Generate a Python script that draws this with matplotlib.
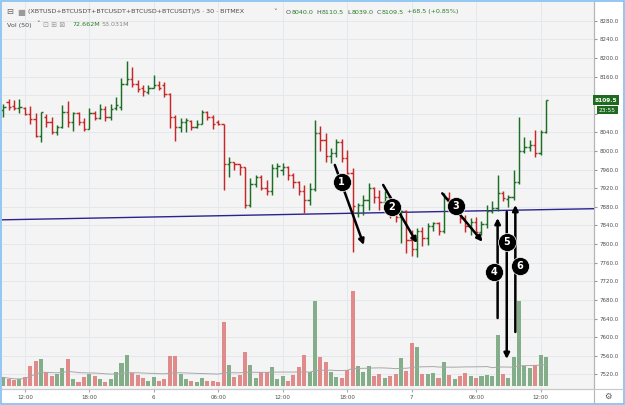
import matplotlib
matplotlib.use('Agg')
import matplotlib.pyplot as plt
import matplotlib.transforms as mtransforms
from matplotlib.patches import Rectangle
from matplotlib.lines import Line2D
import numpy as np
import pandas as pd

# 30 min bars from day 5 10:00 to day 7 12:30
opens = [8088, 8106, 8097, 8092, 8092, 8079, 8069, 8033, 8074, 8063,
         8041, 8052, 8083, 8063, 8081, 8063, 8047, 8081, 8070, 8090,
         8072, 8092, 8095, 8145, 8155, 8143, 8135, 8127, 8136, 8142,
         8142, 8122, 8074, 8052, 8063, 8064, 8052, 8059, 8084, 8074,
         8063, 8059, 7973, 7976, 7971, 7966, 7885, 7930, 7945, 7921,
         7913, 7963, 7960, 7966, 7949, 7934, 7915, 7895, 7918, 8038,
         8024, 7989, 7995, 8020, 7985, 7952, 7866, 7884, 7895, 7920,
         7902, 7891, 7902, 7874, 7859, 7870, 7809, 7790, 7827, 7812,
         7838, 7845, 7827, 7898, 7885, 7875, 7855, 7838, 7848, 7826,
         7843, 7872, 7878, 7910, 7896, 7902, 7934, 7999, 8009, 8013,
         7995, 8040]
highs = [8100, 8112, 8110, 8112, 8095, 8097, 8081, 8084, 8079, 8074,
         8056, 8099, 8107, 8083, 8083, 8070, 8093, 8085, 8100, 8097,
         8100, 8117, 8156, 8193, 8181, 8152, 8142, 8142, 8163, 8150,
         8149, 8124, 8077, 8070, 8070, 8066, 8066, 8088, 8086, 8077,
         8066, 8059, 7988, 7977, 7973, 7966, 7941, 7948, 7948, 7937,
         7971, 7975, 7974, 7968, 7952, 7935, 7927, 7931, 8067, 8053,
         8038, 8006, 8025, 8025, 8003, 7963, 7888, 7906, 7931, 7922,
         7917, 7915, 7905, 7877, 7874, 7874, 7830, 7834, 7837, 7845,
         7848, 7848, 7909, 7911, 7895, 7880, 7862, 7855, 7858, 7850,
         7885, 7892, 7949, 7915, 7905, 7959, 8074, 8031, 8024, 8045,
         8045, 8110.5]
lows = [8074, 8088, 8088, 8081, 8077, 8057, 8029, 8019, 8052, 8036,
        8034, 8049, 8052, 8043, 8056, 8043, 8047, 8066, 8068, 8064,
        8066, 8088, 8088, 8142, 8138, 8127, 8119, 8122, 8135, 8131,
        8117, 8050, 8021, 8040, 8040, 8045, 8049, 8059, 8066, 8047,
        8056, 7916, 7945, 7959, 7948, 7877, 7880, 7923, 7916, 7905,
        7905, 7945, 7949, 7938, 7920, 7906, 7866, 7884, 7913, 7999,
        7977, 7974, 7988, 7977, 7949, 7784, 7859, 7863, 7874, 7888,
        7874, 7886, 7855, 7848, 7803, 7780, 7775, 7772, 7795, 7798,
        7827, 7820, 7823, 7880, 7870, 7845, 7825, 7820, 7815, 7820,
        7835, 7866, 7870, 7893, 7880, 7895, 7930, 7995, 7999, 7988,
        7991, 8039]
closes = [8095, 8095, 8093, 8095, 8079, 8069, 8033, 8083, 8063, 8040,
          8052, 8084, 8063, 8081, 8063, 8047, 8081, 8070, 8090, 8072,
          8090, 8099, 8145, 8155, 8143, 8134, 8129, 8136, 8142, 8136,
          8122, 8074, 8052, 8063, 8066, 8052, 8059, 8084, 8074, 8059,
          8059, 7973, 7976, 7971, 7966, 7885, 7930, 7945, 7921, 7913,
          7963, 7968, 7966, 7949, 7934, 7915, 7895, 7918, 8038, 8024,
          7989, 7995, 8020, 7985, 7952, 7881, 7884, 7895, 7920, 7902,
          7891, 7902, 7874, 7859, 7870, 7809, 7790, 7827, 7812, 7838,
          7845, 7827, 7898, 7887, 7890, 7855, 7838, 7848, 7826, 7843,
          7872, 7878, 7910, 7900, 7902, 7934, 7999, 8009, 8013, 7995,
          8041, 8109.5]
# volume in millions
volumes = [21.5, 17.4, 14.9, 16.5, 22.3, 49.6, 62.8, 66.1, 33.9, 25.6,
           28.9, 43.8, 67.0, 18.2, 10.7, 23.1, 29.8, 25.6, 18.2, 9.9,
           16.5, 35.5, 57.9, 76.9, 31.4, 27.3, 20.7, 13.2, 22.3, 12.4,
           18.2, 74.4, 74.4, 28.9, 18.2, 13.2, 9.1, 20.7, 12.4, 13.2,
           9.9, 159.5, 51.3, 22.3, 26.5, 84.3, 51.3, 19.0, 33.9, 33.9,
           47.1, 18.2, 25.6, 12.4, 27.3, 47.1, 77.7, 34.7, 211.6, 72.7,
           59.5, 34.7, 22.3, 20.7, 39.7, 236.4, 50.4, 34.7, 49.6, 24.8,
           30.6, 19.8, 24.8, 29.8, 68.6, 37.2, 105.8, 97.5, 29.8, 29.8,
           32.2, 19.0, 59.5, 27.3, 17.4, 24.0, 31.4, 24.8, 19.8, 24.0,
           27.3, 24.0, 126.5, 28.9, 19.8, 71.1, 211.6, 49.6, 44.6, 52.1,
           76.9, 72.662]

tick_pos = [4, 16, 28, 40, 52, 64, 76, 88, 100]
tick_labels = ['12:00', '18:00', '6', '06:00', '12:00', '18:00', '7', '06:00', '12:00']
price_ticks = np.arange(7520, 8281, 40)

trend_x = [-0.6, 110]
trend_y = [7852, 7876]

# (label, circle x, circle y, arrow tail x, tail y, head x, head y)
notes = [
    ('1', 63.0, 7934, 61.7, 7970, 67.1, 7798),
    ('2', 72.3, 7880, 70.7, 7927, 77.0, 7802),
    ('3', 84.3, 7881, 81.7, 7909, 89.2, 7805),
    ('4', 91.4, 7740, 92.0, 7641, 92.0, 7856),
    ('5', 93.7, 7805, 93.7, 7869, 93.7, 7553),
    ('6', 96.1, 7753, 95.3, 7611, 95.3, 7884),
]

GREEN = '#1d6e25'
RED = '#c62828'
VGREEN = '#84ad89'
VRED = '#e08a8a'
GRID = '#e3e8ee'
TXT = '#4d4d4d'
VAL = '#2a7d2a'

W, H = 625, 405
fig = plt.figure(figsize=(W / 100, H / 100), dpi=100)
fig.patch.set_facecolor('white')

pos = [2 / W, (H - 389) / H, 592 / W, 387 / H]
axv = fig.add_axes(pos)
ax = axv.twinx()

x = np.arange(len(opens))
o = np.array(opens); c = np.array(closes)
up = c >= o

# volume (bottom layer)
axv.set_facecolor('#f4f4f4')
axv.bar(x, volumes, width=0.75, color=np.where(up, VGREEN, VRED), zorder=2)
ma = pd.Series(volumes).rolling(50, min_periods=1).mean()
axv.plot(x, ma, color='#a8a8a8', lw=0.7, zorder=3)
axv.set_ylim(-7.4, 952)
axv.set_yticks([])
axv.set_xticks(tick_pos)
axv.set_xticklabels(tick_labels)
axv.tick_params(axis='x', length=2, pad=2, labelsize=4, colors='#aaaaaa', labelcolor=TXT)
axv.grid(axis='x', color=GRID, lw=0.7, zorder=0)
axv.set_axisbelow(True)
# horizontal grid at price ticks, drawn below the volume bars
blend = mtransforms.blended_transform_factory(axv.transAxes, ax.transData)
axv.hlines(price_ticks, 0, 1, transform=blend, color=GRID, lw=0.7, zorder=1)

# price bars
cols = np.where(up, GREEN, RED)
ax.vlines(x, lows, highs, colors=cols, lw=1.05, zorder=4)
ax.hlines(opens, x - 0.42, x, colors=cols, lw=1.05, zorder=4)
ax.hlines(closes, x, x + 0.42, colors=cols, lw=1.05, zorder=4)
ax.plot(trend_x, trend_y, color='#2b2390', lw=1.0, zorder=3)

ax.set_xlim(-0.24, 109.94)
ax.set_ylim(7488.5, 8320.2)
ax.set_yticks(price_ticks)
ax.set_yticklabels([f'{v:.1f}' for v in price_ticks])
ax.tick_params(axis='y', length=2.2, pad=1.5, labelsize=4, colors='#999999', labelcolor=TXT)
# labels hidden behind the last-price boxes
for lbl, v in zip(ax.get_yticklabels(), price_ticks):
    if v in (8080, 8120):
        lbl.set_visible(False)

for a in (ax, axv):
    for s in ('top', 'left'):
        a.spines[s].set_visible(False)
    a.spines['right'].set_color('#b5b5b5')
    a.spines['bottom'].set_color('#c8c8c8')
    a.spines['right'].set_linewidth(0.8)
    a.spines['bottom'].set_linewidth(0.8)

# arrows and numbered markers
for lab, cx, cy, tx, ty, hx, hy in notes:
    ax.annotate('', xy=(hx, hy), xytext=(tx, ty),
                arrowprops=dict(arrowstyle='-|>', color='black', lw=1.8,
                                mutation_scale=8, shrinkA=0, shrinkB=0),
                zorder=6)
for lab, cx, cy, tx, ty, hx, hy in notes:
    ax.plot(cx, cy, 'o', ms=13, color='black', mec='white', mew=0.5, zorder=7)
    ax.text(cx, cy, lab, color='white', fontsize=7, fontweight='bold',
            ha='center', va='center', zorder=8)

# last price / countdown boxes on the price scale
yt = ax.get_yaxis_transform()
ax.text(1.001, closes[-1], '8109.5', transform=yt, ha='left', va='center',
        fontsize=4.2, color='white', fontweight='bold', zorder=9, clip_on=False,
        bbox=dict(boxstyle='square,pad=0.35', fc='#1e6a1e', ec='none'))
ax.annotate('23:55', xy=(1.001, closes[-1]), xycoords=yt, xytext=(3.2, -7.3),
            textcoords='offset points', ha='left', va='center', fontsize=4.2,
            color='white', zorder=9, annotation_clip=False,
            bbox=dict(boxstyle='square,pad=0.3', fc='#1e6a1e', ec='none'))


def fx(px):
    return px / W


def fy(py):
    return 1 - py / H


renderer = fig.canvas.get_renderer()


def put_seq(x0, y, parts, size):
    """write text pieces one after another on one header line"""
    px = x0
    for s, col, gap in parts:
        t = fig.text(fx(px), fy(y), s, fontsize=size, color=col, va='center')
        px += t.get_window_extent(renderer=renderer).width + gap


# header
fig.text(fx(6), fy(12), '⊟', fontsize=6, color='#666666', va='center')
fig.text(fx(17), fy(12), '■', fontsize=6, color='#9a9a9a', va='center')
fig.text(fx(28), fy(12), '(XBTUSD+BTCUSDT+BTCUSDT+BTCUSD+BTCUSDT)/5 · 30 · BITMEX',
         fontsize=4.6, color=TXT, va='center')
fig.text(fx(273), fy(11.5), '˅', fontsize=5, color=TXT, va='center')
put_seq(286, 12, [('O', TXT, 0.3), ('8040.0', VAL, 3.5),
                  ('H', TXT, 0.3), ('8110.5', VAL, 3.5),
                  ('L', TXT, 0.3), ('8039.0', VAL, 3.5),
                  ('C', TXT, 0.3), ('8109.5', VAL, 3.5),
                  ('+68.5 (+0.85%)', VAL, 0)], 4.6)

fig.text(fx(7), fy(25), 'Vol (50)', fontsize=4.6, color=TXT, va='center')
fig.text(fx(36), fy(24.5), '˅', fontsize=5, color=TXT, va='center')
fig.text(fx(43), fy(25), '⊡ ⊞ ⊠', fontsize=5, color='#9a9a9a', va='center')
fig.text(fx(72), fy(25), '72.662M', fontsize=4.6, color=VAL, va='center')
fig.text(fx(101), fy(25), '53.031M', fontsize=4.6, color='#888888', va='center')

# frame lines and settings corner
fig.add_artist(Line2D([fx(594), fx(594)], [fy(389), fy(403)], color='#b5b5b5', lw=0.8))
fig.add_artist(Line2D([fx(594), fx(623)], [fy(389), fy(389)], color='#c8c8c8', lw=0.8))
fig.text(fx(608), fy(396), '⚙', fontsize=6, color='#555555', ha='center', va='center')
fig.add_artist(Rectangle((0.001, 0.002), 0.997, 0.996, transform=fig.transFigure,
                         fill=False, ec='#7fbdf0', lw=1.2))

fig.savefig('out.png', dpi=100)
